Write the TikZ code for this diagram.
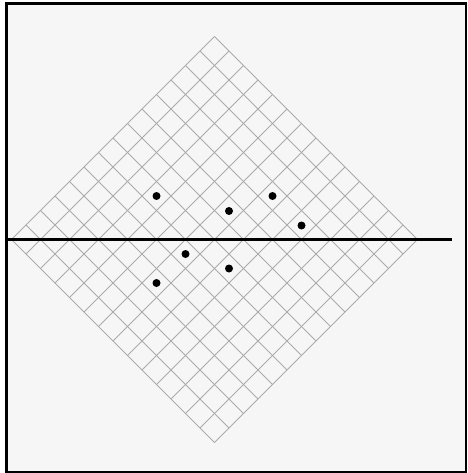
\documentclass[tikz,border=0pt]{standalone}
\usetikzlibrary{calc}
\definecolor{paper}{HTML}{F6F6F6}
\definecolor{gridgray}{HTML}{ABABAB}
\tikzset{
  gridline/.style={draw=gridgray, line width=0.9pt},
  frameline/.style={draw=black, line width=2.7pt},
  axisline/.style={draw=black, line width=2.2pt},
  dotmark/.style={circle, fill=black, inner sep=0pt, minimum size=8pt},
}
\begin{document}
\begin{tikzpicture}[x=1pt,y=-1pt]
  \useasboundingbox (0,0) rectangle (467,473);
  \fill[white] (0,0) rectangle (467,473);
  \fill[paper] (6,3) rectangle (466,472);
  % diamond grid: 14 x 14 cells, centre (214.5,239.5), half-diagonal step 14.5
  \foreach \i in {0,...,14} {
    \draw[gridline] ({11.5+\i*14.5},{239.5+\i*14.5}) -- ++(203,-203);
    \draw[gridline] ({11.5+\i*14.5},{239.5-\i*14.5}) -- ++(203,203);
  }
  % axis line
  \coordinate (axL) at (6,239.5);
  \coordinate (axR) at (452,239.5);
  \draw[axisline] (axL) -- (axR);
  % dots
  \node[dotmark] (d1) at (156.5,196) {};
  \node[dotmark] (d2) at (229,211) {};
  \node[dotmark] (d3) at (272.5,196) {};
  \node[dotmark] (d4) at (301.5,225.5) {};
  \node[dotmark] (d5) at (185.5,254) {};
  \node[dotmark] (d6) at (229,268.5) {};
  \node[dotmark] (d7) at (156.5,283) {};
  % frame
  \draw[frameline] (6.2,3.2) rectangle (466,472);
\end{tikzpicture}
\end{document}
